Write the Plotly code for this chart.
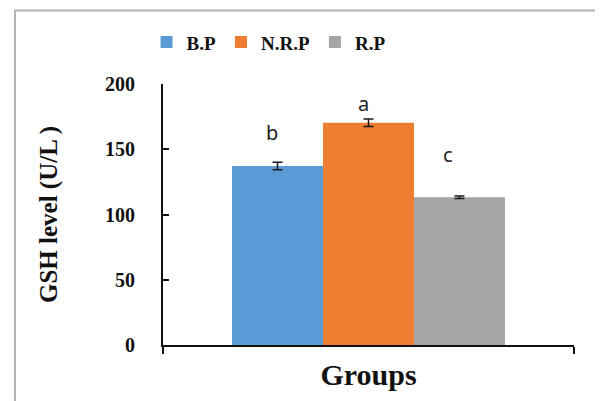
import plotly.graph_objects as go

groups = ["B.P", "N.R.P", "R.P"]
values = [137.2, 170.3, 113.2]
errors = [2.9, 2.8, 1.0]
colors = ["#5b9bd5", "#ed7d31", "#a5a5a5"]
letters = ["b", "a", "c"]
letter_y = [163, 184.7, 145.6]
letter_x = [-0.235, -0.013, 0.193]
yticks = [0, 50, 100, 150, 200]

serif = "Liberation Serif, Times New Roman, serif"

fig = go.Figure()
for g, v, e, c in zip(groups, values, errors, colors):
    fig.add_trace(go.Bar(
        x=[""], y=[v], name=g, marker=dict(color=c, line=dict(width=0)),
        error_y=dict(type="data", array=[e], visible=True, color="#1a1a1a", thickness=1.5, width=5),
    ))

for lx, ly, t in zip(letter_x, letter_y, letters):
    fig.add_annotation(x=lx, y=ly, xref="x", yref="y", text=t, showarrow=False,
                       font=dict(family="Noto Sans, Open Sans, sans-serif", size=20, color="#222"))

fig.add_shape(type="line", xref="paper", yref="paper", x0=-0.360, x1=-0.360, y0=-0.25, y1=1.282,
              line=dict(color="#b4b4b4", width=2))
fig.add_shape(type="line", xref="paper", yref="paper", x0=-0.362, x1=1.068, y0=1.282, y1=1.282,
              line=dict(color="#b4b4b4", width=2))
fig.add_shape(type="line", xref="paper", yref="paper", x0=1.068, x1=1.068, y0=-0.25, y1=1.282,
              line=dict(color="#d0d0d0", width=2))

fig.update_layout(
    width=595, height=393,
    margin=dict(l=155, r=29, t=76, b=56, autoexpand=False),
    paper_bgcolor="white", plot_bgcolor="white",
    barmode="group", bargap=0.336, bargroupgap=0,
    showlegend=True,
    legend=dict(orientation="h", x=-0.04, xanchor="left", y=1.16, yanchor="middle",
                font=dict(family=serif, size=19, color="#111", weight="bold"),
                itemwidth=30, tracegroupgap=0),
    font=dict(family=serif, color="#111"),
    xaxis=dict(type="category", range=[-0.5, 0.5], showline=True, linecolor="#111", linewidth=2,
               ticks="outside", tickson="boundaries", ticklen=7, tickwidth=2, tickcolor="#111",
               showticklabels=False, showgrid=False, zeroline=False, automargin=False,
               title=dict(text="Groups", font=dict(family=serif, size=30, color="#111", weight="bold"), standoff=18)),
    yaxis=dict(range=[0, 200], tickvals=yticks, showline=True, linecolor="#111", linewidth=2,
               ticks="inside", ticklen=6, tickwidth=2, tickcolor="#111",
               tickfont=dict(family=serif, size=20, color="#111", weight="bold"), ticklabelstandoff=22,
               showgrid=False, zeroline=False, automargin=False,
               title=dict(text="GSH level (U/L )", font=dict(family=serif, size=25, color="#111", weight="bold"), standoff=40)),
)

fig.write_html("out.html")
